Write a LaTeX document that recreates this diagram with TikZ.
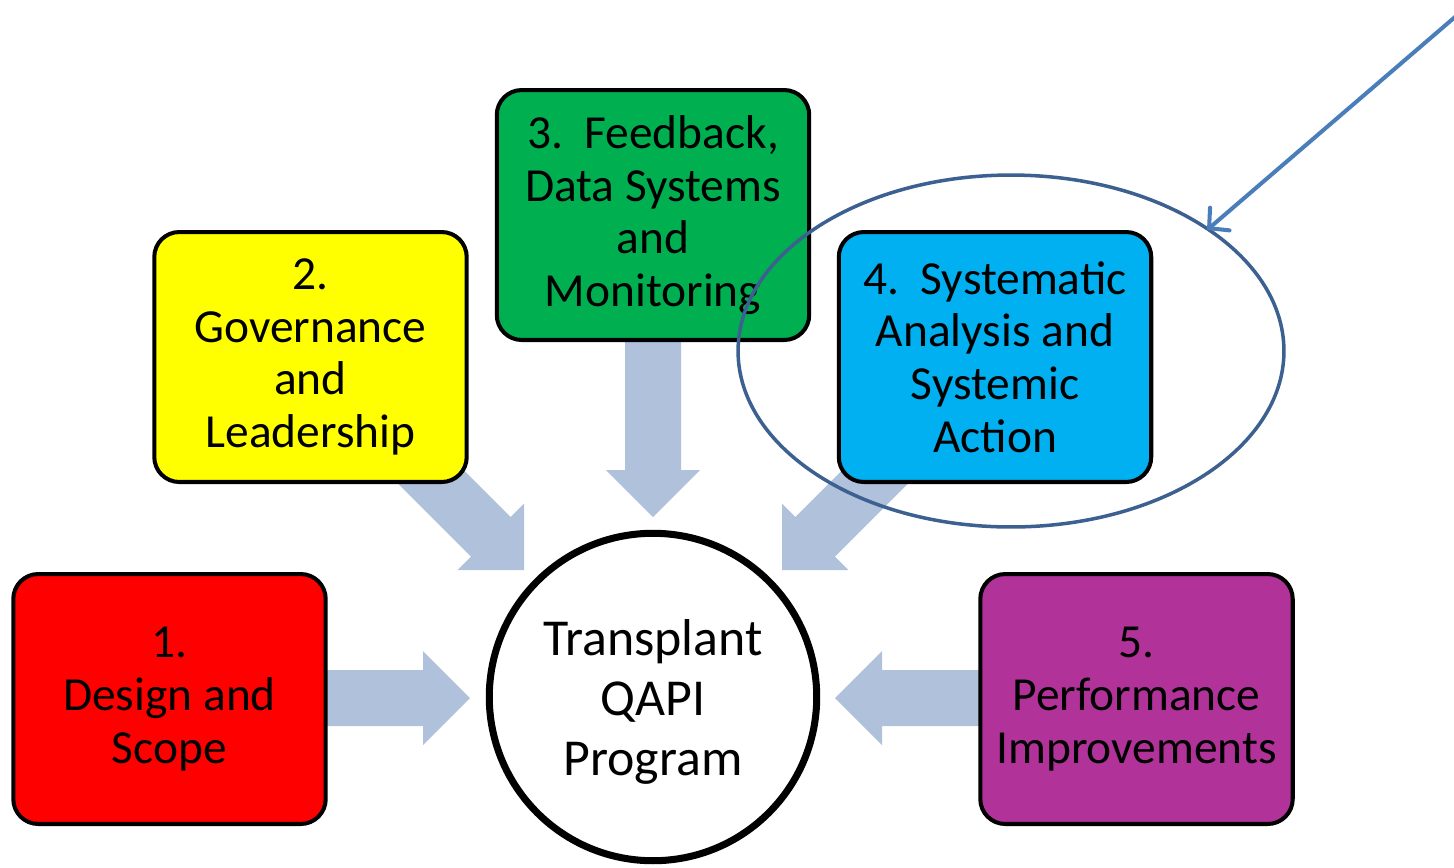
\documentclass[tikz,border=0pt]{standalone}
\usepackage{fontspec}
\setmainfont{Carlito}
\usetikzlibrary{arrows.meta,shapes.geometric}
\definecolor{arrowfill}{HTML}{B0C1DC}
\definecolor{boxred}{HTML}{FF0000}
\definecolor{boxyellow}{HTML}{FFFF00}
\definecolor{boxgreen}{HTML}{00B050}
\definecolor{boxcyan}{HTML}{00B0F0}
\definecolor{boxpurple}{HTML}{B13299}
\definecolor{ellcol}{HTML}{3C6090}
\definecolor{pointcol}{HTML}{4A7EBB}
\newcommand{\qapiarrow}[3]{%
  \fill[arrowfill, shift={(#1)}, rotate=#2] (0,0) -- (-47,47) -- (-47,28) -- (-#3,28) -- (-#3,-28) -- (-47,-28) -- (-47,-47) -- cycle;}
\tikzset{
  stepbox/.style={draw=black, line width=2.3pt, rounded corners=0.5cm,
    minimum width=6.25cm, minimum height=5.0cm, align=center, inner sep=0pt,
    font=\fontsize{27}{30}\selectfont},
  hub/.style={draw=black, circle, line width=4pt, fill=white, minimum size=6.55cm,
    align=center, inner sep=0pt, font=\fontsize{29.5}{34}\selectfont},
  focus/.style={draw=ellcol, ellipse, line width=2pt, minimum width=10.92cm, minimum height=7.04cm},
  pointer/.style={draw=pointcol, line width=2.3pt, line cap=round,
    -{Straight Barb[length=8pt,width=17pt,line cap=round]}}
}
\begin{document}
\begin{tikzpicture}[x=0.02cm, y=-0.02cm]
\useasboundingbox (0,0) rectangle (1454,867);
% arrow tips
\coordinate (t1) at (470,698);
\coordinate (t2) at (524,570);
\coordinate (t3) at (653,517);
\coordinate (t4) at (782,570);
\coordinate (t5) at (835,698);
\qapiarrow{t1}{0}{160}
\qapiarrow{t2}{-45}{170}
\qapiarrow{t3}{-90}{190}
\qapiarrow{t4}{-135}{170}
\qapiarrow{t5}{180}{160}
% boxes
\node[stepbox, fill=boxred] (b1) at (169.5,699) {1.\\Design and\\Scope};
\node[stepbox, fill=boxyellow] (b2) at (310.5,357) {2.\\Governance\\and\\Leadership};
\node[stepbox, fill=boxgreen] (b3) at (653,215) {3.\ \ Feedback,\\Data Systems\\and\\Monitoring};
\node[stepbox, fill=boxcyan] (b4) at (995,357) {4.\ \ Systematic\\Analysis and\\Systemic\\Action};
\node[stepbox, fill=boxpurple] (b5) at (1136.5,699) {5.\\Performance\\Improvements};
\node[hub] (prog) at (653,697) {\rule{0pt}{26pt}Transplant\\QAPI\\Program};
\node[focus] (ring) at (1011,351) {};
\coordinate (pstart) at (1462,11);
\coordinate (ptip) at (1207,230);
\draw[pointer] (pstart) -- (ptip);
\end{tikzpicture}
\end{document}
